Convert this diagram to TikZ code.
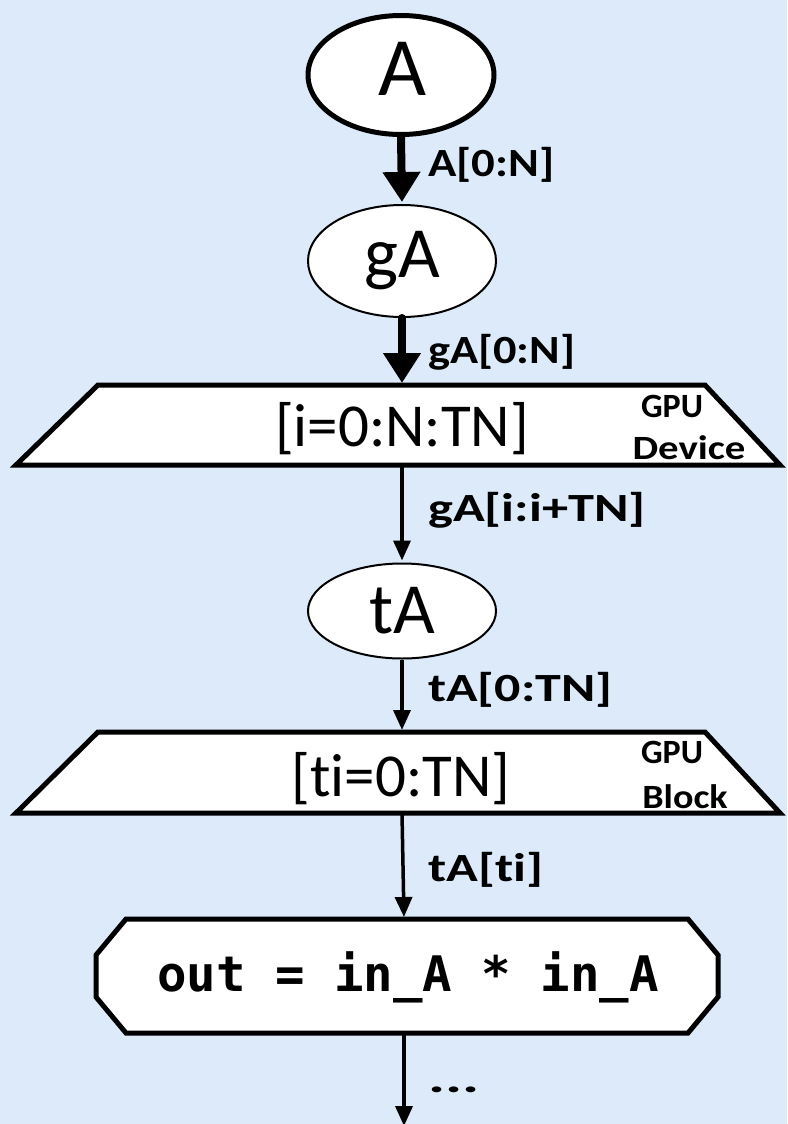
\documentclass[tikz,border=0pt]{standalone}
\usepackage{fontspec}
\setmainfont{Carlito}[Ligatures=NoCommon]
\setmonofont{DejaVu Sans Mono}
\usetikzlibrary{shapes.geometric,arrows.meta}
\definecolor{bgblue}{RGB}{220,234,250}
% horizontally widened text
\newcommand{\widetxt}[2]{\scalebox{#1}[1]{#2}}
\tikzset{
  var/.style={ellipse, draw, fill=white, inner sep=0pt},
  lbl/.style={anchor=west, inner sep=0pt, font=\bfseries\fontsize{40}{40}\selectfont},
  bigtxt/.style={inner sep=0pt, font=\fontsize{61}{61}\selectfont},
  tag/.style={inner sep=0pt, font=\bfseries\fontsize{34}{34}\selectfont},
  heavyarrow/.style={line width=8pt, line cap=round, -{Triangle[width=36pt,length=30pt]}, shorten >=2pt},
  lightarrow/.style={line width=3.5pt, -{Triangle[width=17pt,length=20pt]}, shorten >=2pt},
  shapeline/.style={line width=5pt, fill=white, line join=miter},
}
\begin{document}
\begin{tikzpicture}[x=1pt,y=-1pt]
\fill[bgblue] (0,0) rectangle (787,1124);
\useasboundingbox (0,0) rectangle (787,1124);

% source array and its copies
\node[var, line width=5pt, minimum width=186pt, minimum height=119pt] (A) at (401,75) {};
\node[inner sep=0pt, font=\fontsize{83}{83}\selectfont] (Atxt) at (403,69) {A};
\node[var, line width=2pt, minimum width=188pt, minimum height=112pt] (gA) at (402,261) {\fontsize{72}{72}\selectfont gA};
\node[var, line width=2pt, minimum width=188pt, minimum height=95pt] (tA) at (402,611) {\fontsize{72}{72}\selectfont tA};

% device loop
\draw[shapeline] (98,385) -- (705,385) -- (780,465) -- (16,465) -- cycle;
\coordinate (dtop) at (402,385);
\coordinate (dbot) at (402,465);
\node[bigtxt] (dtxt) at (402,429) {[i=0:N:TN]};
\node[tag] (dgpu) at (672,406) {GPU};
\node[tag] (ddev) at (689,448) {\widetxt{1.2}{Device}};

% block loop
\draw[shapeline] (98,732) -- (705,732) -- (780,813) -- (16,813) -- cycle;
\coordinate (btop) at (402,732);
\coordinate (bbot) at (402,813);
\node[bigtxt] (btxt) at (401,779) {[ti=0:TN]};
\node[tag] (bgpu) at (672,752) {GPU};
\node[tag] (bblk) at (685,797) {\widetxt{1.12}{Block}};

% kernel statement
\draw[shapeline] (126,919) -- (688,919) -- (718,955) -- (718,997) -- (688,1033)
  -- (126,1033) -- (96,997) -- (96,955) -- cycle;
\coordinate (ktop) at (404,919);
\coordinate (kbot) at (404,1033);
\node[inner sep=0pt, font=\ttfamily\bfseries\fontsize{49}{49}\selectfont] (ktxt) at (408,977) {out = in\_A * in\_A};
\coordinate (kend) at (404,1126);

% data flow
\draw[heavyarrow] (A.south) -- (gA.north);
\node[lbl] (l1) at (428,165) {\widetxt{1.17}{A[0:N]}};
\draw[heavyarrow] (gA.south) -- (dtop);
\node[lbl] (l2) at (428,352) {\widetxt{1.16}{gA[0:N]}};
\draw[lightarrow] (dbot) -- (tA.north);
\node[lbl] (l3) at (428,510) {\widetxt{1.31}{gA[i:i+TN]}};
\draw[lightarrow] (tA.south) -- (btop);
\node[lbl] (l4) at (428,690) {\widetxt{1.3}{tA[0:TN]}};
\draw[lightarrow] (bbot) -- (ktop);
\node[lbl] (l5) at (428,870) {\widetxt{1.31}{tA[ti]}};
\draw[lightarrow, shorten >=0pt] (kbot) -- (kend);
\node[lbl] (l6) at (428,1090) {\widetxt{1.6}{...}};
\end{tikzpicture}
\end{document}
